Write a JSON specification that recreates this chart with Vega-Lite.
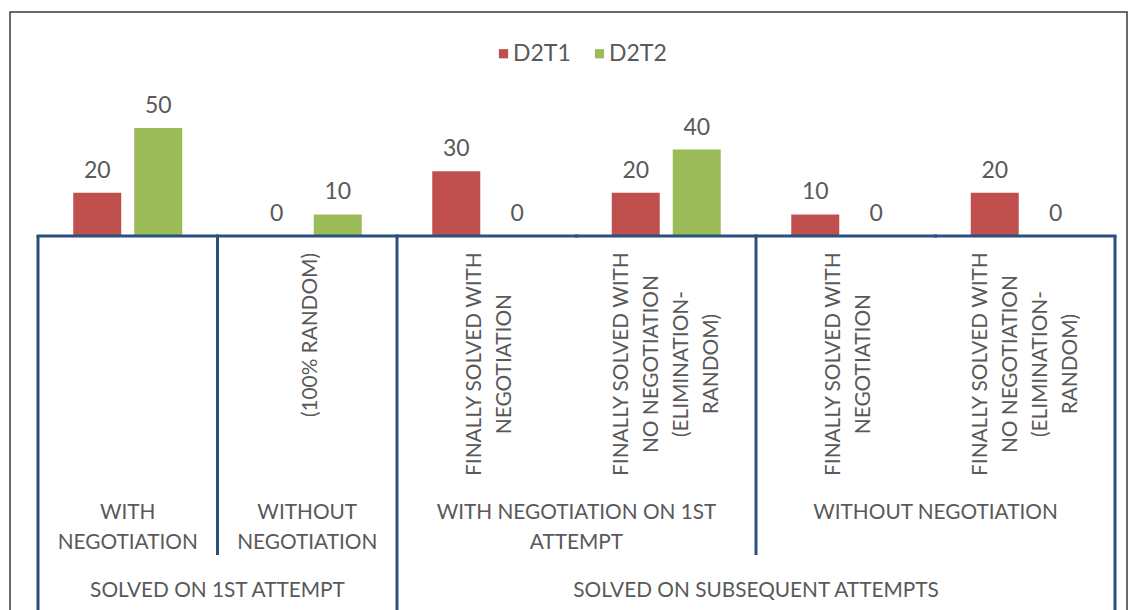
{
  "$schema": "https://vega.github.io/schema/vega-lite/v6.json",
  "width": 1117,
  "height": 600,
  "autosize": {"type": "none"},
  "padding": {"left": 10, "top": 12, "right": 7, "bottom": 0},
  "background": "white",
  "config": {
    "font": "Lato",
    "view": {"stroke": "#3a3a3a", "strokeWidth": 1.5}
  },
  "datasets": {
    "bars": [
      {"cat": "c1", "series": "D2T1", "value": 20},
      {"cat": "c1", "series": "D2T2", "value": 50},
      {"cat": "c2", "series": "D2T1", "value": 0},
      {"cat": "c2", "series": "D2T2", "value": 10},
      {"cat": "c3", "series": "D2T1", "value": 30},
      {"cat": "c3", "series": "D2T2", "value": 0},
      {"cat": "c4", "series": "D2T1", "value": 20},
      {"cat": "c4", "series": "D2T2", "value": 40},
      {"cat": "c5", "series": "D2T1", "value": 10},
      {"cat": "c5", "series": "D2T2", "value": 0},
      {"cat": "c6", "series": "D2T1", "value": 20},
      {"cat": "c6", "series": "D2T2", "value": 0}
    ],
    "cats": [
      {"cat": "c1", "label": ""},
      {"cat": "c2", "label": "(100% RANDOM)"},
      {"cat": "c3", "label": "FINALLY SOLVED WITH\nNEGOTIATION"},
      {"cat": "c4", "label": "FINALLY  SOLVED WITH\nNO NEGOTIATION\n(ELIMINATION-\nRANDOM)"},
      {"cat": "c5", "label": "FINALLY SOLVED WITH\nNEGOTIATION"},
      {"cat": "c6", "label": "FINALLY  SOLVED WITH\nNO NEGOTIATION\n(ELIMINATION-\nRANDOM)"}
    ],
    "groups": [
      {"cat": "c1", "span": 1, "label": "WITH\nNEGOTIATION"},
      {"cat": "c2", "span": 1, "label": "WITHOUT\nNEGOTIATION"},
      {"cat": "c4", "span": 2, "label": "WITH NEGOTIATION ON 1ST\nATTEMPT"},
      {"cat": "c6", "span": 2, "label": "WITHOUT NEGOTIATION"}
    ],
    "tops": [
      {"cat": "c2", "span": 2, "label": "SOLVED ON 1ST ATTEMPT"},
      {"cat": "c5", "span": 4, "label": "SOLVED ON SUBSEQUENT ATTEMPTS"}
    ],
    "dividers": [
      {"cat": "c1", "edge": "start", "tier": 3},
      {"cat": "c2", "edge": "start", "tier": 2},
      {"cat": "c3", "edge": "start", "tier": 3},
      {"cat": "c5", "edge": "start", "tier": 2},
      {"cat": "c6", "edge": "end", "tier": 3}
    ]
  },
  "layer": [
    {
      "data": {"name": "bars"},
      "mark": {"type": "bar"},
      "encoding": {
        "x": {"field": "cat", "type": "nominal", "axis": null,
              "scale": {"domain": ["c1","c2","c3","c4","c5","c6"], "paddingInner": 0, "paddingOuter": 0.1114, "align": 0.7}},
        "xOffset": {"field": "series", "type": "nominal", "scale": {"paddingInner": 0.213, "paddingOuter": 0.578}},
        "y": {"field": "value", "type": "quantitative", "stack": null, "axis": null,
              "scale": {"domain": [-174.07, 103.7], "nice": false}},
        "color": {"field": "series", "type": "nominal",
                  "scale": {"domain": ["D2T1", "D2T2"], "range": ["#C0504D", "#9BBB59"]},
                  "legend": {"orient": "none", "legendX": 482, "legendY": 30, "direction": "horizontal", "title": null,
                             "symbolType": "square", "symbolSize": 85, "symbolStrokeWidth": 0,
                             "labelFontSize": 23, "labelColor": "#595959", "columnPadding": 17, "labelOffset": -2}}
      }
    },
    {
      "data": {"name": "bars"},
      "mark": {"type": "text", "dy": -15, "baseline": "alphabetic", "fontSize": 23, "color": "#595959"},
      "encoding": {
        "x": {"field": "cat", "type": "nominal"},
        "xOffset": {"field": "series", "type": "nominal"},
        "y": {"field": "value", "type": "quantitative"},
        "text": {"field": "value", "type": "quantitative"}
      }
    },
    {
      "data": {"name": "cats"},
      "transform": [{"filter": {"field": "cat", "oneOf": ["c2"]}}],
      "mark": {"type": "text", "angle": 270, "align": "right", "baseline": "middle", "fontSize": 20.8, "color": "#595959", "dy": 4},
      "encoding": {
        "x": {"field": "cat", "type": "nominal"},
        "y": {"datum": -7.9, "type": "quantitative"},
        "text": {"field": "label", "type": "nominal"}
      }
    },
    {
      "data": {"name": "cats"},
      "transform": [{"filter": {"field": "cat", "oneOf": ["c3", "c5"]}}],
      "mark": {"type": "text", "angle": 270, "align": "center", "baseline": "middle", "lineBreak": "\n", "lineHeight": 30, "fontSize": 20.8, "color": "#595959", "dy": -12},
      "encoding": {
        "x": {"field": "cat", "type": "nominal"},
        "y": {"datum": -59.3, "type": "quantitative"},
        "text": {"field": "label", "type": "nominal"}
      }
    },
    {
      "data": {"name": "cats"},
      "transform": [{"filter": {"field": "cat", "oneOf": ["c4", "c6"]}}],
      "mark": {"type": "text", "angle": 270, "align": "center", "baseline": "middle", "lineBreak": "\n", "lineHeight": 30, "fontSize": 20.8, "color": "#595959", "dy": -44},
      "encoding": {
        "x": {"field": "cat", "type": "nominal"},
        "y": {"datum": -59.3, "type": "quantitative"},
        "text": {"field": "label", "type": "nominal"}
      }
    },
    {
      "data": {"name": "groups"},
      "transform": [{"filter": "datum.span == 1"}],
      "mark": {"type": "text", "align": "center", "baseline": "top", "lineBreak": "\n", "lineHeight": 30, "fontSize": 20.8, "color": "#595959"},
      "encoding": {
        "x": {"field": "cat", "type": "nominal"},
        "y": {"datum": -123.7, "type": "quantitative"},
        "text": {"field": "label", "type": "nominal"}
      }
    },
    {
      "data": {"name": "groups"},
      "transform": [{"filter": "datum.span == 2"}],
      "mark": {"type": "text", "align": "center", "baseline": "top", "lineBreak": "\n", "lineHeight": 30, "fontSize": 20.8, "color": "#595959"},
      "encoding": {
        "x": {"field": "cat", "type": "nominal", "bandPosition": 0},
        "y": {"datum": -123.7, "type": "quantitative"},
        "text": {"field": "label", "type": "nominal"}
      }
    },
    {
      "data": {"name": "tops"},
      "mark": {"type": "text", "align": "center", "baseline": "middle", "fontSize": 20.8, "color": "#595959"},
      "encoding": {
        "x": {"field": "cat", "type": "nominal", "bandPosition": 0},
        "y": {"datum": -164.3, "type": "quantitative"},
        "text": {"field": "label", "type": "nominal"}
      }
    },
    {
      "data": {"name": "cats"},
      "mark": {"type": "rule", "color": "#29507e", "strokeWidth": 3, "strokeCap": "square"},
      "encoding": {
        "x": {"field": "cat", "type": "nominal", "bandPosition": 0},
        "x2": {"field": "cat", "bandPosition": 1},
        "y": {"datum": 0, "type": "quantitative"}
      }
    },
    {
      "data": {"name": "dividers"},
      "transform": [{"filter": "datum.tier == 2"}],
      "mark": {"type": "rule", "color": "#29507e", "strokeWidth": 3},
      "encoding": {
        "x": {"field": "cat", "type": "nominal", "bandPosition": 0},
        "y": {"datum": 0, "type": "quantitative"},
        "y2": {"datum": -147.7}
      }
    },
    {
      "data": {"name": "dividers"},
      "transform": [{"filter": "datum.tier == 3 && datum.edge == 'start'"}],
      "mark": {"type": "rule", "color": "#29507e", "strokeWidth": 3},
      "encoding": {
        "x": {"field": "cat", "type": "nominal", "bandPosition": 0},
        "y": {"datum": 0, "type": "quantitative"},
        "y2": {"datum": -174}
      }
    },
    {
      "data": {"name": "dividers"},
      "transform": [{"filter": "datum.edge == 'end'"}],
      "mark": {"type": "rule", "color": "#29507e", "strokeWidth": 3},
      "encoding": {
        "x": {"field": "cat", "type": "nominal", "bandPosition": 1},
        "y": {"datum": 0, "type": "quantitative"},
        "y2": {"datum": -174}
      }
    }
  ]
}
